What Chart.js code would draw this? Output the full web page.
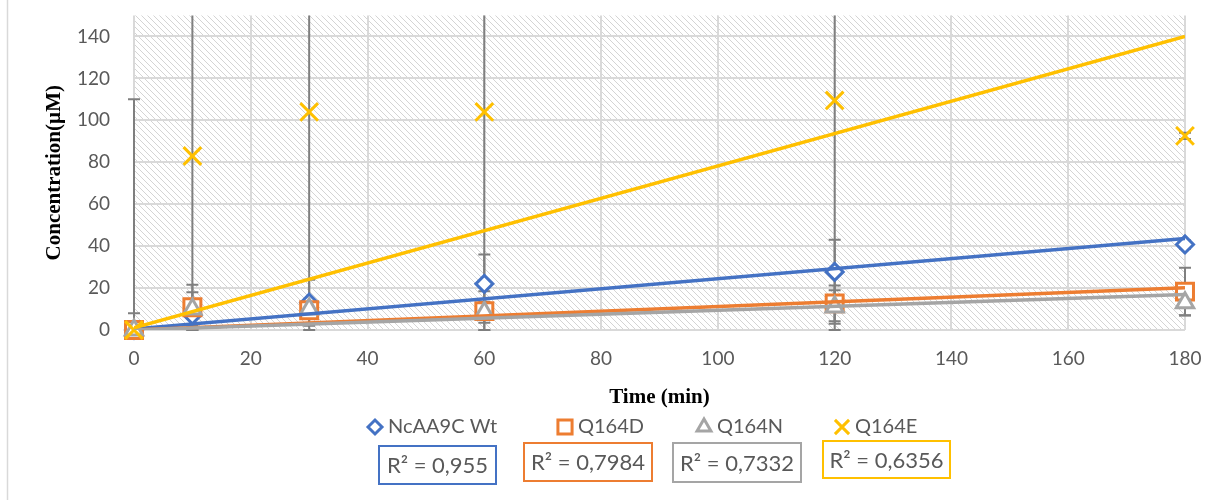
<!DOCTYPE html>
<html lang="en">
<head>
    <meta charset="UTF-8">
    <title>Concentration vs time</title>
    <style>
        body { margin: 0; background: #fff; }
    </style>
</head>
<body>
    <canvas id="myChart" width="1229" height="500"></canvas>

    <script src="https://cdn.jsdelivr.net/npm/chart.js"></script>
    <script>
        // data
        const times = [0, 10, 30, 60, 120, 180];
        const wt = [0, 7, 13, 22, 27.7, 40.8];
        const q164d = [0, 10.8, 9.4, 9, 12.7, 18.3];
        const q164n = [0, 10, 10, 8.5, 11, 13];
        const q164e = [0, 83, 104, 104, 109.5, 92.6];

        const wtErr = [8, 1, 11, 14, 15.3, 2];
        const q164dErr = [0, 10.8, 3, 9.5, 8.5, 11.4];
        const q164nErr = [0, 8, 3, 5, 8, 6];
        const q164eErr = [110, 83, 104, 104, 109.5, 1.5];

        // linear trendlines (start / end)
        const trendX = [0, 180];
        const wtTrend = [0.5, 43.7];
        const q164dTrend = [0, 20.2];
        const q164nTrend = [0, 16.9];
        const q164eTrend = [1, 140];

        const yTicks = [0, 20, 40, 60, 80, 100, 120, 140];
        const xTicks = [0, 20, 40, 60, 80, 100, 120, 140, 160, 180];

        const seriesNames = ['NcAA9C Wt', 'Q164D', 'Q164N', 'Q164E'];
        const r2Labels = ['R² = 0,955', 'R² = 0,7984', 'R² = 0,7332', 'R² = 0,6356'];

        const colors = ['#4472C4', '#ED7D31', '#A5A5A5', '#FFC000'];
        const styles = ['rectRot', 'rect', 'triangle', 'crossRot'];
        const radii = [8.5, 12, 10, 12.5];
        const legendRadii = [7, 10, 8, 10];

        const pts = (xs, ys) => xs.map((x, i) => ({ x: x, y: ys[i] }));

        const values = [wt, q164d, q164n, q164e];
        const errors = [wtErr, q164dErr, q164nErr, q164eErr];
        const trends = [wtTrend, q164dTrend, q164nTrend, q164eTrend];

        const datasets = [];
        values.forEach((v, i) => {
            datasets.push({
                label: seriesNames[i],
                data: pts(times, v),
                errors: errors[i],
                pointStyle: styles[i],
                pointRadius: radii[i],
                pointBorderWidth: 3,
                pointBackgroundColor: '#fff',
                borderColor: colors[i],
                backgroundColor: '#fff',
                showLine: false,
                clip: false,
                order: 10 - i   // later series drawn on top, like excel
            });
        });
        trends.forEach((t, i) => {
            datasets.push({
                label: 'trend ' + seriesNames[i],
                data: pts(trendX, t),
                showLine: true,
                borderColor: colors[i],
                borderWidth: 3.5,
                pointRadius: 0,
                order: 5 - i
            });
        });

        // diagonal hatch like the excel fill
        const hatch = document.createElement('canvas');
        hatch.width = 6;
        hatch.height = 6;
        const hc = hatch.getContext('2d');
        hc.strokeStyle = '#d4d4d4';
        hc.lineWidth = 1;
        hc.beginPath();
        hc.moveTo(-1, -1); hc.lineTo(7, 7);
        hc.moveTo(-1, 5); hc.lineTo(1, 7);
        hc.moveTo(5, -1); hc.lineTo(7, 1);
        hc.stroke();

        const background = {
            id: 'background',
            beforeDraw(chart) {
                const { ctx, chartArea: a } = chart;
                ctx.save();
                ctx.fillStyle = ctx.createPattern(hatch, 'repeat');
                ctx.fillRect(a.left, a.top, a.right - a.left, a.bottom - a.top);
                ctx.restore();
            }
        };

        const errorBars = {
            id: 'errorBars',
            beforeDatasetsDraw(chart) {
                const { ctx, chartArea: a, scales } = chart;
                ctx.save();
                ctx.beginPath();
                ctx.rect(a.left - 10, a.top, a.right - a.left + 20, a.bottom - a.top + 1);
                ctx.clip();
                ctx.strokeStyle = '#7f7f7f';
                ctx.lineWidth = 2;
                chart.data.datasets.forEach(ds => {
                    if (!ds.errors) return;
                    ds.data.forEach((p, i) => {
                        const e = ds.errors[i];
                        if (!e) return;
                        const x = scales.x.getPixelForValue(p.x);
                        const y1 = scales.y.getPixelForValue(p.y + e);
                        const y2 = scales.y.getPixelForValue(p.y - e);
                        ctx.beginPath();
                        ctx.moveTo(x, y1); ctx.lineTo(x, y2);
                        ctx.moveTo(x - 6, y1); ctx.lineTo(x + 6, y1);
                        ctx.moveTo(x - 6, y2); ctx.lineTo(x + 6, y2);
                        ctx.stroke();
                    });
                });
                ctx.restore();
            }
        };

        function drawMarker(ctx, style, x, y, r, color) {
            ctx.save();
            ctx.strokeStyle = color;
            ctx.fillStyle = '#fff';
            ctx.lineWidth = 3;
            Chart.helpers.drawPoint(ctx, { pointStyle: style, radius: r, borderWidth: 3 }, x, y);
            ctx.restore();
        }

        const legendBoxes = {
            id: 'legendBoxes',
            afterDraw(chart) {
                const ctx = chart.ctx;
                ctx.save();
                // left frame line
                ctx.strokeStyle = '#d9d9d9';
                ctx.lineWidth = 1.5;
                ctx.beginPath();
                ctx.moveTo(7.5, 0); ctx.lineTo(7.5, 500);
                ctx.stroke();

                const markX = [375, 565, 704, 842];
                const boxes = [[379, 446, 117, 38], [524, 443, 128, 38], [673, 443, 128, 39], [823, 441, 127, 37]];
                ctx.textBaseline = 'middle';
                seriesNames.forEach((n, i) => {
                    drawMarker(ctx, styles[i], markX[i], 427, legendRadii[i], colors[i]);
                    ctx.fillStyle = '#595959';
                    ctx.font = '20px Lato';
                    ctx.textAlign = 'left';
                    ctx.fillText(n, markX[i] + 13, 427);

                    const b = boxes[i];
                    ctx.strokeStyle = colors[i];
                    ctx.lineWidth = 2;
                    ctx.strokeRect(b[0], b[1], b[2], b[3]);
                    ctx.font = '22px Lato';
                    ctx.textAlign = 'center';
                    ctx.fillText(r2Labels[i], b[0] + b[2] / 2, b[1] + b[3] / 2 + 1);
                });
                ctx.restore();
            }
        };

        const ctx = document.getElementById('myChart');

        new Chart(ctx, {
            type: 'scatter',
            data: { datasets: datasets },
            options: {
                responsive: false,
                animation: false,
                layout: { padding: { left: 30, right: 44, top: 11, bottom: 90 } },
                plugins: {
                    legend: { display: false },
                    tooltip: { enabled: false }
                },
                scales: {
                    x: {
                        type: 'linear',
                        min: 0,
                        max: 180,
                        afterBuildTicks: s => { s.ticks = xTicks.map(v => ({ value: v })); },
                        afterFit: s => { s.height = 80; },
                        grid: { color: '#d9d9d9', lineWidth: 2, drawTicks: false },
                        border: { display: false },
                        ticks: { padding: 17, color: '#595959', font: { family: 'Lato', size: 19 } },
                        title: {
                            display: true,
                            text: 'Time (min)',
                            color: '#000',
                            font: { family: 'Liberation Serif', size: 21, weight: 'bold', lineHeight: 1.2 },
                            padding: { top: 0, bottom: 0 }
                        }
                    },
                    y: {
                        min: 0,
                        max: 150,
                        afterBuildTicks: s => { s.ticks = yTicks.map(v => ({ value: v })); },
                        afterFit: s => { s.width = 104; s.paddingTop = 0; s.paddingBottom = 0; },
                        grid: { color: '#d9d9d9', lineWidth: 2, drawTicks: false },
                        border: { display: false },
                        ticks: { padding: 24, color: '#595959', font: { family: 'Lato', size: 19 } },
                        title: {
                            display: true,
                            text: 'Concentration(µM)',
                            color: '#000',
                            font: { family: 'Liberation Serif', size: 21, weight: 'bold', lineHeight: 1.2 },
                            padding: { top: 12, bottom: 0 }
                        }
                    }
                }
            },
            plugins: [background, errorBars, legendBoxes]
        });
    </script>
</body>
</html>
